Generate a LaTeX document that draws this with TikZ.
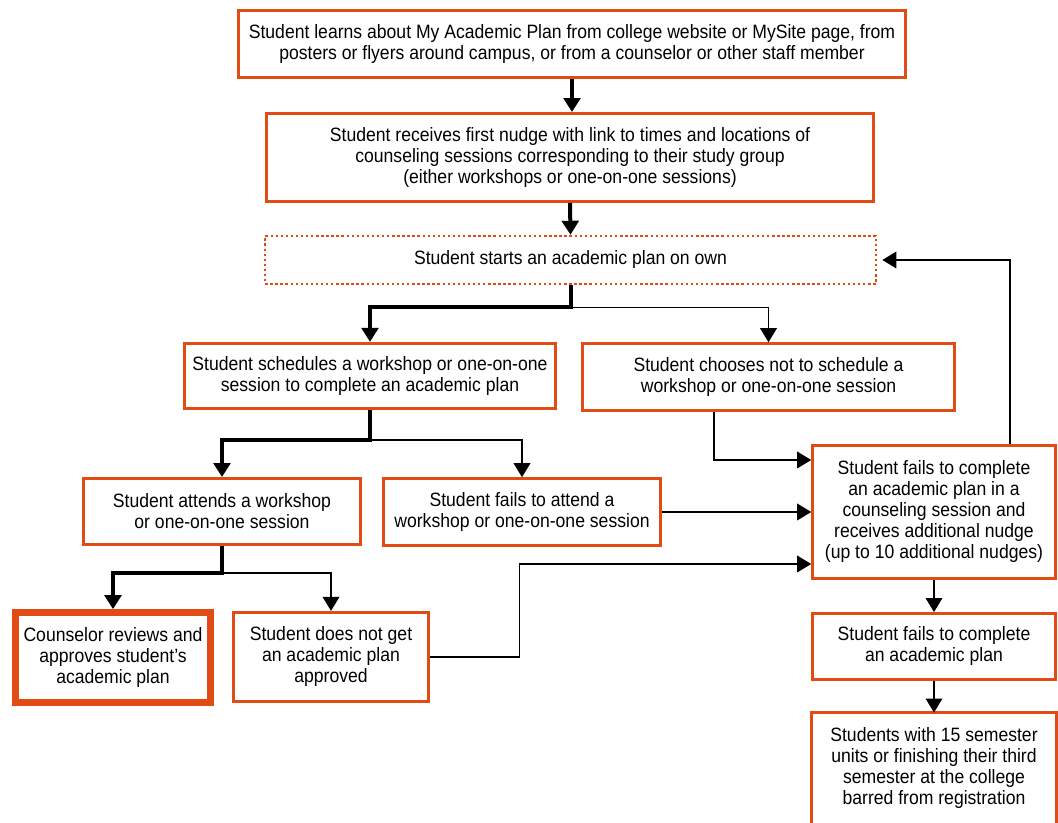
\documentclass[tikz,border=0pt]{standalone}
\usepackage{fontspec}
\setmainfont{Liberation Sans}[FakeStretch=0.91]
\usetikzlibrary{arrows.meta}
\definecolor{planorange}{RGB}{226,76,20}

\begin{document}
\begin{tikzpicture}[x=0.75pt,y=-0.75pt,
    font=\fontsize{14.5}{15.75}\selectfont,
    stage/.style={draw=planorange,line width=2.2pt,align=center,inner sep=0pt},
    mainflow/.style={line width=3pt,-{Triangle[length=10.5pt,width=12.5pt]}},
    sideflow/.style={line width=1pt,-{Triangle[length=10.5pt,width=12.5pt]}}]
    \useasboundingbox (0,0) rectangle (1058,823);
    %% middle column
    \node[stage,minimum width=500pt,minimum height=50pt] (learn) at (572,44)
        {Student learns about My Academic Plan from college website or MySite page, from\\
         posters or flyers around campus, or from a counselor or other staff member};
    \node[stage,minimum width=455pt,minimum height=66pt] (firstnudge) at (570,157.5)
        {Student receives first nudge with link to times and locations of\\
         counseling sessions corresponding to their study group\\
         (either workshops or one-on-one sessions)};
    \node[stage,line width=1.8pt,dash pattern=on 1.8pt off 2pt,minimum width=458pt,minimum height=36pt] (ownplan) at (570.5,260)
        {Student starts an academic plan on own};
    \node[stage,minimum width=278pt,minimum height=49pt] (schedule) at (370,376)
        {Student schedules a workshop or one-on-one\\ session to complete an academic plan};
    \node[stage,minimum width=279pt,minimum height=50pt] (choosenot) at (768.5,377)
        {Student chooses not to schedule a\\ workshop or one-on-one session};
    \node[stage,minimum width=208pt,minimum height=49.5pt] (attend) at (222,511.5)
        {Student attends a workshop\\ or one-on-one session};
    \node[stage,minimum width=208pt,minimum height=50pt] (missed) at (522,512)
        {Student fails to attend a\\ workshop or one-on-one session};
    \node[stage,line width=5pt,minimum width=146pt,minimum height=67.5pt] (approved) at (113,657.5)
        {Counselor reviews and\\ approves student’s\\ academic plan};
    \node[stage,minimum width=146pt,minimum height=67pt] (notapproved) at (331,657)
        {Student does not get\\ an academic plan\\ approved};
    %% right column
    \node[stage,minimum width=182pt,minimum height=100pt] (nudge) at (934,512)
        {Student fails to complete\\ an academic plan in a\\ counseling session and\\
         receives additional nudge\\ (up to 10 additional nudges)};
    \node[stage,minimum width=182pt,minimum height=49.5pt] (notdone) at (934,646.5)
        {Student fails to complete\\ an academic plan};
    \node[stage,draw=none,minimum width=182pt,minimum height=81pt] (barred) at (934,768)
        {Students with 15 semester\\ units or finishing their third\\ semester at the college\\ barred from registration};
    \draw[draw=planorange,line width=2.2pt] ([yshift=-3pt]barred.south west) -- (barred.north west)
        -- (barred.north east) -- ([yshift=-3pt]barred.south east);
    %% main path
    \draw[mainflow] (learn.south) -- (learn.south |- firstnudge.north);
    \draw[mainflow] (firstnudge.south) -- (ownplan.north);
    \draw[mainflow] (ownplan.south) -- ++(0,22) -| (schedule.north);
    \draw[sideflow] (ownplan.south) ++(0,22) -| (choosenot.north);
    \draw[mainflow] (schedule.south) -- ++(0,30) -| (attend.north);
    \draw[sideflow] (schedule.south) ++(0,30) -| (missed.north);
    \draw[mainflow] (attend.south) -- ++(0,27) -| (approved.north);
    \draw[sideflow] (attend.south) ++(0,27) -| (notapproved.north);
    %% into the nudge box
    \draw[sideflow] ([xshift=-41pt]choosenot.south) |- ([yshift=39pt]nudge.west);
    \draw[sideflow] (missed.east) -- (nudge.west);
    \draw[sideflow] (notapproved.east) -- ++(90,0) |- ([yshift=-39pt]nudge.west);
    %% back to own plan
    \draw[sideflow] ([xshift=57pt]nudge.north) |- ([xshift=4pt]ownplan.east);
    %% down the right
    \draw[sideflow] (nudge.south) -- (notdone.north);
    \draw[sideflow] (notdone.south) -- (barred.north);
\end{tikzpicture}
\end{document}
